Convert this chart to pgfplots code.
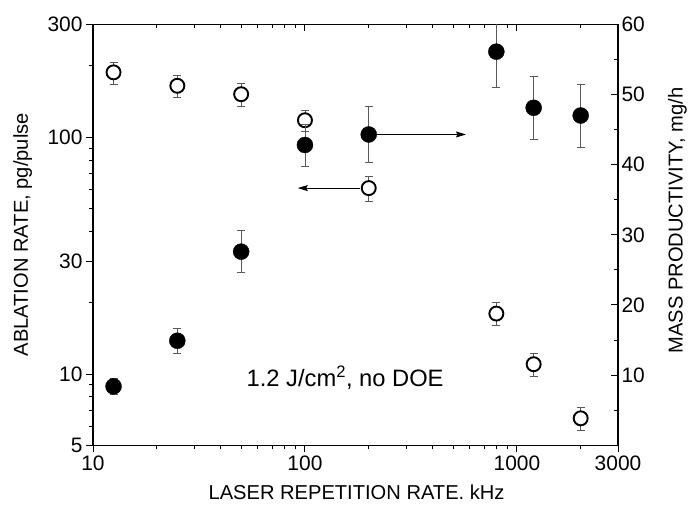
\documentclass[border=0pt]{standalone}
\usepackage{pgfplots}
\usepackage{pgfplotstable}
\pgfplotsset{compat=1.18}
\usetikzlibrary{arrows.meta}
\usepackage{fontspec}
\setmainfont{Liberation Sans}

% ablation rate, pg/pulse (left axis, open circles)
\pgfplotstableread{
f    rate  err
12.5 188   20
25   165   18
50   152   17
100  118   12
200  61    7.5
800  18    2
1200 11    1.2
2000 6.5   0.7
}\ablation

% mass productivity, mg/h (right axis, filled circles)
\pgfplotstableread{
f    mass  err
12.5 8.4   1.2
25   14.9  1.8
50   27.6  3
100  42.8  3
200  44.3  4
800  56.1  5.1
1200 48.1  4.5
2000 47.0  4.5
}\massdata

\begin{document}
\begin{tikzpicture}
\begin{axis}[name=ax1,
    scale only axis, width=525bp, height=421bp,
    xmode=log, xmin=10, xmax=3000,
    ymode=log, ymin=5, ymax=300,
    axis line style={line width=1.1bp},
    major tick style={black, line width=1bp},
    minor tick style={black, line width=1bp},
    major tick length=7bp, minor tick length=4bp,
    tick label style={font=\fontsize{21}{25}\selectfont},
    label style={font=\fontsize{20.2}{24}\selectfont},
    xtick pos=bottom, ytick pos=left, tick align=outside,
    xtick={10,100,1000,3000}, xticklabels={10,100,1000,3000},
    minor xtick={20,30,40,50,60,70,80,90,200,300,400,500,600,700,800,900,2000},
    ytick={5,10,30,100,300}, yticklabels={5,10,30,100,300},
    minor ytick={6,7,8,9,20,40,50,60,70,80,90,200},
    xlabel={LASER REPETITION RATE. kHz},
    ylabel={ABLATION RATE, pg/pulse},
    xlabel style={at={(axis description cs:0.502,-0.112)}, anchor=center},
    ylabel style={at={(axis description cs:-0.134,0.5)}, anchor=center},
]
\addplot[only marks, mark=*, mark size=7bp,
    mark options={draw=black, fill=white, line width=1.9bp},
    error bars/y dir=both, error bars/y explicit,
    error bars/error bar style={line width=0.7bp, black!65},
    error bars/error mark options={rotate=90, mark size=4bp, line width=0.7bp, black!65}]
    table[x=f, y=rate, y error=err] {\ablation};
\draw[line width=0.9bp, -{Stealth[length=10bp, width=6bp, inset=1.5bp]}]
    (axis cs:182,61) -- (axis cs:92.5,61);
\node[anchor=base west, inner sep=0pt, font=\fontsize{23.8}{28}\selectfont]
    at (axis cs:53,8.88) {1.2 J/cm\textsuperscript{2}, no DOE};
\end{axis}

\begin{axis}[
    scale only axis, width=525bp, height=421bp,
    xmode=log, xmin=10, xmax=3000,
    ymin=0, ymax=60,
    axis line style={line width=1.1bp},
    major tick style={black, line width=1bp},
    minor tick style={black, line width=1bp},
    major tick length=7bp, minor tick length=4bp,
    tick label style={font=\fontsize{21}{25}\selectfont},
    label style={font=\fontsize{20.2}{24}\selectfont},
    xtick pos=top, ytick pos=right, yticklabel pos=right, tick align=inside,
    xtick={10,100,1000,3000}, xticklabels={},
    minor xtick={20,30,40,50,60,70,80,90,200,300,400,500,600,700,800,900,2000},
    ytick={10,20,30,40,50,60}, yticklabels={10,20,30,40,50,60},
    minor ytick={5,15,25,35,45,55},
    ylabel={MASS PRODUCTIVITY, mg/h},
    ylabel style={at={(axis description cs:1.113,0.534)}, anchor=center},
]
\addplot[only marks, mark=*, mark size=8bp,
    mark options={draw=black, fill=black},
    error bars/y dir=both, error bars/y explicit,
    error bars/error bar style={line width=0.7bp, black!65},
    error bars/error mark options={rotate=90, mark size=4bp, line width=0.7bp, black!65}]
    table[x=f, y=mass, y error=err] {\massdata};
\draw[line width=0.9bp, -{Stealth[length=10bp, width=6bp, inset=1.5bp]}]
    (axis cs:217,44.3) -- (axis cs:575,44.3);
\end{axis}

\pgfresetboundingbox
\path[use as bounding box] ([xshift=-93bp,yshift=-69bp]ax1.south west)
    rectangle ([xshift=70bp,yshift=24.3bp]ax1.north east);
\end{tikzpicture}
\end{document}
